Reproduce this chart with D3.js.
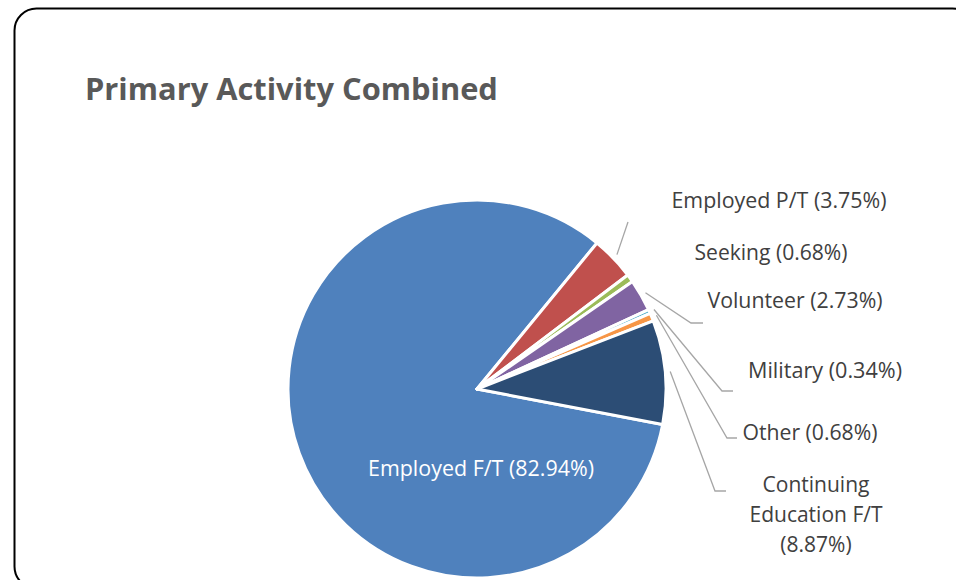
<!DOCTYPE html>
<html>
<head>
<meta charset="utf-8">
<script src="https://cdn.jsdelivr.net/npm/d3@7"></script>
<style>
  html, body { margin: 0; padding: 0; background: #fff; }
  svg { display: block; }
</style>
</head>
<body>
<svg id="chart" width="956" height="580"></svg>
<script>
// ---- data ----
const categories = ["Employed F/T", "Employed P/T", "Seeking", "Volunteer", "Military", "Other", "Continuing Education F/T"];
const values = [82.94, 3.75, 0.68, 2.73, 0.34, 0.68, 8.87];
const labelLines = [
  ["Employed F/T (82.94%)"],
  ["Employed P/T (3.75%)"],
  ["Seeking (0.68%)"],
  ["Volunteer (2.73%)"],
  ["Military (0.34%)"],
  ["Other (0.68%)"],
  ["Continuing", "Education F/T", "(8.87%)"]
];
const colors = ["#4F81BD", "#C0504D", "#9BBB59", "#8064A2", "#4BACC6", "#F79646", "#2C4D75"];
const titleText = "Primary Activity Combined";

// ---- layout (label placement, not data) ----
const cx = 477, cy = 389, R = 189;
const firstAngle = 100.8 * Math.PI / 180;
// label center x, first baseline y, target width of widest line, leader elbow [x,y] and end x
const labelLayout = [
  { x: 481, y: 476, w: 226, inside: true },
  { x: 779, y: 208, w: 215, elbow: [628, 222], end: null },
  { x: 771, y: 260, w: 153, elbow: null },
  { x: 795, y: 308, w: 175, elbow: [691, 323], end: 703 },
  { x: 825, y: 378, w: 154, elbow: [722, 391], end: 733 },
  { x: 810, y: 440, w: 135, elbow: [727, 438], end: 737 },
  { x: 816, y: 492, w: 133, elbow: [715, 491], end: 726, lh: 30 }
];

const svg = d3.select("#chart");
const FONT = "'Open Sans', 'Noto Sans', sans-serif";

function fitWidth(textSel, target, start) {
  let size = start;
  textSel.style("font-size", size + "px");
  for (let i = 0; i < 4; i++) {
    const w = textSel.node().getComputedTextLength();
    if (w <= 0) break;
    size = size * target / w;
    textSel.style("font-size", size + "px");
  }
  return size;
}

// border
svg.append("rect")
  .attr("x", 14.5).attr("y", 8.5)
  .attr("width", 960).attr("height", 580)
  .attr("rx", 22).attr("ry", 22)
  .attr("fill", "#fff").attr("stroke", "#000").attr("stroke-width", 2);

// title
const title = svg.append("text")
  .attr("x", 85).attr("y", 100)
  .attr("fill", "#595959")
  .style("font-family", FONT)
  .style("font-weight", "bold")
  .text(titleText);
fitWidth(title, 413, 28);

// pie
const data = categories.map((c, i) => ({ name: c, value: values[i], i }));
const pie = d3.pie().value(d => d.value).sort(null)
  .startAngle(firstAngle).endAngle(firstAngle + 2 * Math.PI);
const arcs = pie(data);
const arc = d3.arc().innerRadius(0).outerRadius(R);

const g = svg.append("g").attr("transform", `translate(${cx},${cy})`);
g.selectAll("path.slice").data(arcs).enter().append("path")
  .attr("class", "slice")
  .attr("d", arc)
  .attr("fill", d => colors[d.data.i])
  .attr("stroke", "#fff")
  .attr("stroke-width", 3)
  .attr("stroke-linejoin", "round");

// leader lines
arcs.forEach((a, i) => {
  const L = labelLayout[i];
  if (!L.elbow) return;
  const mid = (a.startAngle + a.endAngle) / 2;
  const sx = cx + (R + 5) * Math.sin(mid);
  const sy = cy - (R + 5) * Math.cos(mid);
  const pts = [[sx, sy], L.elbow];
  if (L.end != null) pts.push([L.end, L.elbow[1]]);
  svg.append("path")
    .attr("d", d3.line()(pts))
    .attr("fill", "none")
    .attr("stroke", "#A6A6A6")
    .attr("stroke-width", 1.3);
});

// labels
labelLines.forEach((lines, i) => {
  const L = labelLayout[i];
  const t = svg.append("text")
    .attr("text-anchor", "middle")
    .attr("fill", L.inside ? "#ffffff" : "#404040")
    .style("font-family", FONT);
  // find widest line to size
  let widest = lines.reduce((a, b) => (b.length > a.length ? b : a));
  const probe = svg.append("text").style("font-family", FONT).text(widest);
  const size = fitWidth(probe, L.w, 18);
  probe.remove();
  t.style("font-size", size + "px");
  lines.forEach((ln, k) => {
    t.append("tspan")
      .attr("x", L.x)
      .attr("y", L.y + k * (L.lh || 30))
      .text(ln);
  });
});
</script>
</body>
</html>
